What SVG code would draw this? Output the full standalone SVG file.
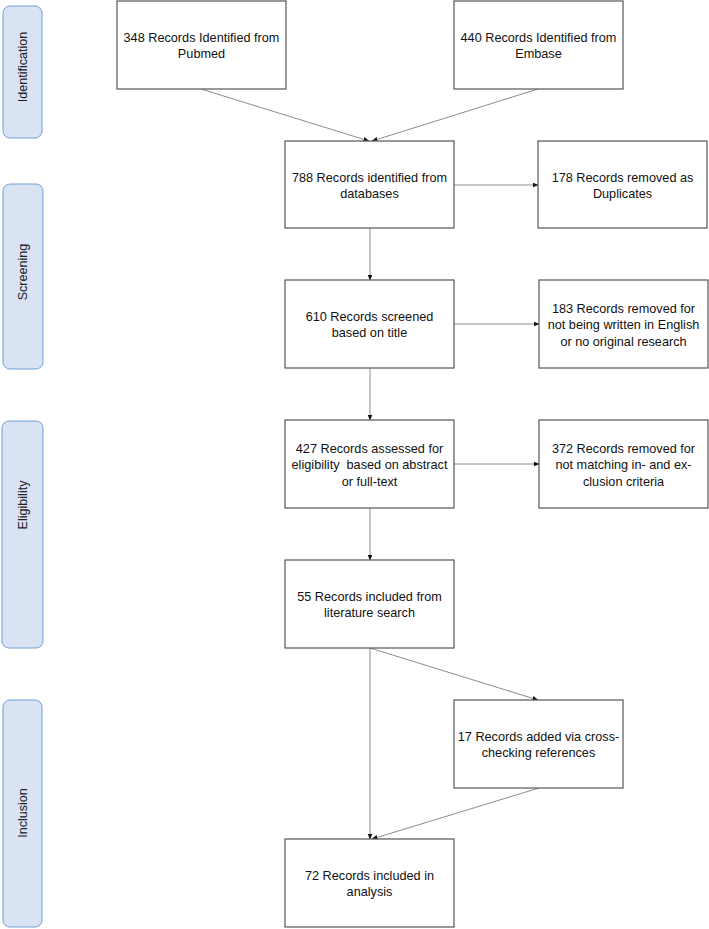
<svg xmlns="http://www.w3.org/2000/svg" width="709" height="929" viewBox="0 0 709 929">
<defs>
<style>
.box{fill:#fff;stroke:#555;stroke-width:1.2}
.lane{fill:#dae3f3;stroke:#6f9fd8;stroke-width:1}
.t{font-family:"Liberation Sans",Arial,sans-serif;font-size:12.7px;fill:#111;text-anchor:middle}
.lt{font-family:"Liberation Sans",Arial,sans-serif;font-size:12.6px;fill:#222;text-anchor:middle;dominant-baseline:central}
.c{fill:none;stroke:#8c8c8c;stroke-width:1}
</style>
<marker id="ah" markerWidth="6" markerHeight="6" refX="5.5" refY="3" orient="auto" markerUnits="userSpaceOnUse">
<path d="M0,0.5 L6,3 L0,5.5 Z" fill="#111"/>
</marker>
</defs>
<rect width="709" height="929" fill="#fff"/>

<g id="lane-identification">
<rect class="lane" x="3" y="6" width="39" height="132" rx="7"/>
<text class="lt" transform="translate(23,67) rotate(-90)">Identification</text>
</g>
<g id="lane-screening">
<rect class="lane" x="3" y="184" width="40" height="185" rx="7"/>
<text class="lt" transform="translate(23,272) rotate(-90)">Screening</text>
</g>
<g id="lane-eligibility">
<rect class="lane" x="2" y="421" width="41" height="227" rx="7"/>
<text class="lt" transform="translate(23,505) rotate(-90)">Eligibility</text>
</g>
<g id="lane-inclusion">
<rect class="lane" x="3" y="700" width="39" height="227" rx="7"/>
<text class="lt" transform="translate(23,813) rotate(-90)">Inclusion</text>
</g>

<g id="connectors">
<line class="c" x1="201" y1="89" x2="369" y2="141" marker-end="url(#ah)"/>
<line class="c" x1="538" y1="89" x2="372" y2="141" marker-end="url(#ah)"/>
<line class="c" x1="454" y1="185" x2="538" y2="185" marker-end="url(#ah)"/>
<line class="c" x1="370" y1="228" x2="370" y2="280" marker-end="url(#ah)"/>
<line class="c" x1="454" y1="324" x2="539" y2="324" marker-end="url(#ah)"/>
<line class="c" x1="370" y1="368" x2="370" y2="420" marker-end="url(#ah)"/>
<line class="c" x1="454" y1="464" x2="539" y2="464" marker-end="url(#ah)"/>
<line class="c" x1="370" y1="508" x2="370" y2="560" marker-end="url(#ah)"/>
<line class="c" x1="370" y1="648" x2="538" y2="700" marker-end="url(#ah)"/>
<line class="c" x1="370" y1="648" x2="370" y2="839" marker-end="url(#ah)"/>
<line class="c" x1="539" y1="788" x2="372" y2="839" marker-end="url(#ah)"/>
</g>

<g id="n-pubmed">
<rect class="box" x="117" y="1" width="169" height="88"/>
<text class="t" x="201.5" y="41.5">348 Records Identified from</text>
<text class="t" x="201.5" y="57.5">Pubmed</text>
</g>
<g id="n-embase">
<rect class="box" x="454" y="1" width="169" height="88"/>
<text class="t" x="538.5" y="41.5">440 Records Identified from</text>
<text class="t" x="538.5" y="57.5">Embase</text>
</g>
<g id="n-788">
<rect class="box" x="285" y="141" width="169" height="87"/>
<text class="t" x="369.5" y="181.5">788 Records identified from</text>
<text class="t" x="369.5" y="197.5">databases</text>
</g>
<g id="n-178">
<rect class="box" x="538" y="141" width="169" height="87"/>
<text class="t" x="622.5" y="181.5">178 Records removed as</text>
<text class="t" x="622.5" y="197.5">Duplicates</text>
</g>
<g id="n-610">
<rect class="box" x="285" y="280" width="169" height="88"/>
<text class="t" x="369.5" y="320.5">610 Records screened</text>
<text class="t" x="369.5" y="336.5">based on title</text>
</g>
<g id="n-183">
<rect class="box" x="539" y="280" width="169" height="88"/>
<text class="t" x="623.5" y="312.5">183 Records removed for</text>
<text class="t" x="623.5" y="329">not being written in English</text>
<text class="t" x="623.5" y="345.5">or no original research</text>
</g>
<g id="n-427">
<rect class="box" x="285" y="420" width="169" height="88"/>
<text class="t" x="369.5" y="452.5">427 Records assessed for</text>
<text class="t" x="369.5" y="469" xml:space="preserve">eligibility  based on abstract</text>
<text class="t" x="369.5" y="485.5">or full-text</text>
</g>
<g id="n-372">
<rect class="box" x="539" y="420" width="169" height="88"/>
<text class="t" x="623.5" y="452.5">372 Records removed for</text>
<text class="t" x="623.5" y="469">not matching in- and ex-</text>
<text class="t" x="623.5" y="485.5">clusion criteria</text>
</g>
<g id="n-55">
<rect class="box" x="285" y="560" width="169" height="88"/>
<text class="t" x="369.5" y="600.5">55 Records included from</text>
<text class="t" x="369.5" y="616.5">literature search</text>
</g>
<g id="n-17">
<rect class="box" x="454" y="700" width="169" height="88"/>
<text class="t" x="538.5" y="740.5">17 Records added via cross-</text>
<text class="t" x="538.5" y="756.5">checking references</text>
</g>
<g id="n-72">
<rect class="box" x="285" y="839" width="169" height="88"/>
<text class="t" x="369.5" y="879.5">72 Records included in</text>
<text class="t" x="369.5" y="895.5">analysis</text>
</g>
</svg>
